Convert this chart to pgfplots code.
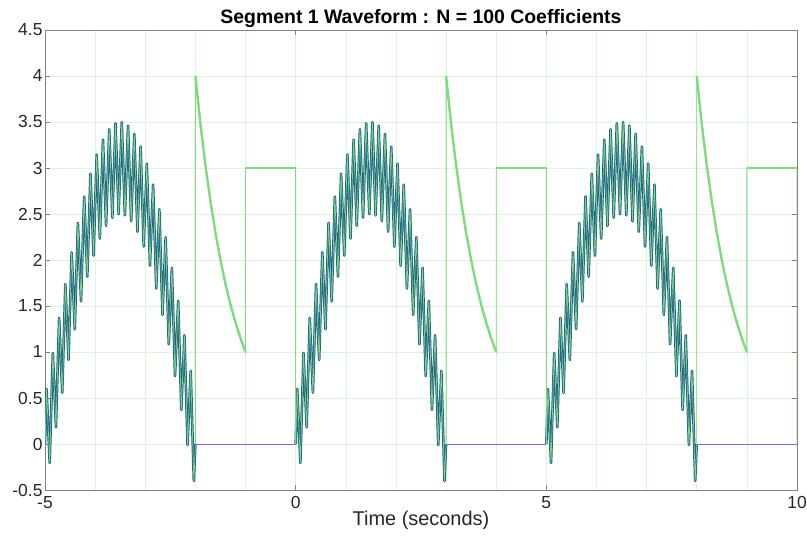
\documentclass[border=0pt]{standalone}
\usepackage{fontspec}
\setmainfont{Liberation Sans}
\usepackage{pgfplots}
\usepackage{pgfplotstable}
\pgfplotsset{compat=1.18}
\definecolor{gridg}{RGB}{222,244,222}
\definecolor{humpb}{RGB}{35,100,140}
\definecolor{wg}{RGB}{125,220,125}
\definecolor{zb}{RGB}{110,110,220}
\definecolor{axg}{RGB}{130,130,130}
\definecolor{txt}{RGB}{38,38,38}

\pgfplotstableread{
t y
0 0
0.03125 0.5982
0.0625 0.1962
0.09375 -0.2059
0.125 0.3916
0.15625 0.9887
0.1875 0.5853
0.21875 0.1812
0.25 0.7765
0.28125 1.3709
0.3125 0.9643
0.34375 0.5568
0.375 1.1481
0.40625 1.7381
0.4375 1.3269
0.46875 0.9142
0.5 1.5
0.53125 2.0842
0.5625 1.6667
0.59375 1.2474
0.625 1.8263
0.65625 2.4032
0.6875 1.9780
0.71875 1.5508
0.75 2.1213
0.78125 2.6896
0.8125 2.2555
0.84375 1.8190
0.875 2.3801
0.90625 2.9385
0.9375 2.4944
0.96875 2.0476
1.0 2.5981
1.03125 3.1458
1.0625 2.6906
1.09375 2.2326
1.125 2.7716
1.15625 3.3077
1.1875 2.8408
1.21875 2.3708
1.25 2.8978
1.28125 3.4216
1.3125 2.9424
1.34375 2.4599
1.375 2.9743
1.40625 3.4856
1.4375 2.9936
1.46875 2.4984
1.5 3.0
1.53125 3.4984
1.5625 2.9936
1.59375 2.4856
1.625 2.9743
1.65625 3.4599
1.6875 2.9424
1.71875 2.4216
1.75 2.8978
1.78125 3.3708
1.8125 2.8408
1.84375 2.3077
1.875 2.7716
1.90625 3.2326
1.9375 2.6906
1.96875 2.1458
2.0 2.5981
2.03125 3.0476
2.0625 2.4944
2.09375 1.9385
2.125 2.3801
2.15625 2.8190
2.1875 2.2555
2.21875 1.6896
2.25 2.1213
2.28125 2.5508
2.3125 1.9780
2.34375 1.4032
2.375 1.8263
2.40625 2.2474
2.4375 1.6667
2.46875 1.0842
2.5 1.5
2.53125 1.9142
2.5625 1.3269
2.59375 0.7381
2.625 1.1481
2.65625 1.5568
2.6875 0.9643
2.71875 0.3709
2.75 0.7765
2.78125 1.1812
2.8125 0.5853
2.84375 -0.0113
2.875 0.3916
2.90625 0.7941
2.9375 0.1962
2.96875 -0.4018
3.0 0
}\hump

\pgfplotstableread{
u y
0 4
0.1 3.4822
0.2 3.0314
0.3 2.6390
0.4 2.2974
0.5 2.0
0.6 1.7411
0.7 1.5157
0.8 1.3195
0.9 1.1487
1.0 1
}\expo

\pgfplotstableread{
u y
0 0
0 4
0.1 3.4822
0.2 3.0314
0.3 2.6390
0.4 2.2974
0.5 2.0
0.6 1.7411
0.7 1.5157
0.8 1.3195
0.9 1.1487
1.0 1
1.0 3
2.0 3
2.0 0
}\tail

\begin{document}
\begin{tikzpicture}
\begin{axis}[
  name=ax,
  scale only axis,
  width=752bp, height=460bp,
  xmin=-5, xmax=10, ymin=-0.5, ymax=4.5,
  xtick={-5,0,5,10},
  ytick={-0.5,0,0.5,1,1.5,2,2.5,3,3.5,4,4.5},
  yticklabels={-0.5,0,0.5,1,1.5,2,2.5,3,3.5,4,4.5},
  minor x tick num=4,
  minor tick length=0pt,
  major tick length=5bp,
  tick align=inside,
  grid=both,
  major grid style={gridg, line width=0.6bp},
  minor grid style={gridg, line width=0.6bp},
  axis line style={axg, line width=0.8bp},
  tick style={axg, line width=0.8bp},
  /pgf/number format/assume math mode=true,
  tick label style={font=\fontsize{17.5}{20}\selectfont, text=txt},
  xticklabel style={yshift=-3bp},
  yticklabel style={xshift=1bp},
  xlabel={Time (seconds)},
  xlabel style={font=\fontsize{20}{22}\selectfont, text=txt, yshift=5bp},
  title={\textbf{Segment 1 Waveform : N = 100 Coefficients}},
  title style={font=\fontsize{19.5}{21}\selectfont, text=black, yshift=-7bp},
  clip=true,
]
% blue Fourier approximation (hump)
\addplot[humpb, line width=2.6bp, line join=round] table[x expr=\thisrow{t}-5, y=y] {\hump};
\addplot[humpb, line width=2.6bp, line join=round] table[x expr=\thisrow{t}, y=y] {\hump};
\addplot[humpb, line width=2.6bp, line join=round] table[x expr=\thisrow{t}+5, y=y] {\hump};
% green waveform, thin
\addplot[wg, line width=0.7bp] table[x expr=\thisrow{t}-5, y=y] {\hump};
\addplot[wg, line width=0.7bp] table[x expr=\thisrow{t}, y=y] {\hump};
\addplot[wg, line width=0.7bp] table[x expr=\thisrow{t}+5, y=y] {\hump};
\addplot[wg, line width=0.9bp] table[x expr=\thisrow{u}-2, y=y] {\tail};
\addplot[wg, line width=0.9bp] table[x expr=\thisrow{u}+3, y=y] {\tail};
\addplot[wg, line width=0.9bp] table[x expr=\thisrow{u}+8, y=y] {\tail};
% green waveform, thick parts
\addplot[wg, line width=2.4bp] table[x expr=\thisrow{u}-2, y=y] {\expo};
\addplot[wg, line width=2.4bp] table[x expr=\thisrow{u}+3, y=y] {\expo};
\addplot[wg, line width=2.4bp] table[x expr=\thisrow{u}+8, y=y] {\expo};
\addplot[wg, line width=2.4bp] coordinates {(-1,3) (0,3)};
\addplot[wg, line width=2.4bp] coordinates {(4,3) (5,3)};
\addplot[wg, line width=2.4bp] coordinates {(9,3) (10,3)};
% blue zero segments
\addplot[zb, line width=1bp] coordinates {(-2,0) (0,0)};
\addplot[zb, line width=1bp] coordinates {(3,0) (5,0)};
\addplot[zb, line width=1bp] coordinates {(8,0) (10,0)};
\end{axis}
\pgfresetboundingbox
\path[use as bounding box] ([xshift=-45bp,yshift=-55bp]ax.south west) rectangle ([xshift=10bp,yshift=30bp]ax.north east);
\end{tikzpicture}
\end{document}
